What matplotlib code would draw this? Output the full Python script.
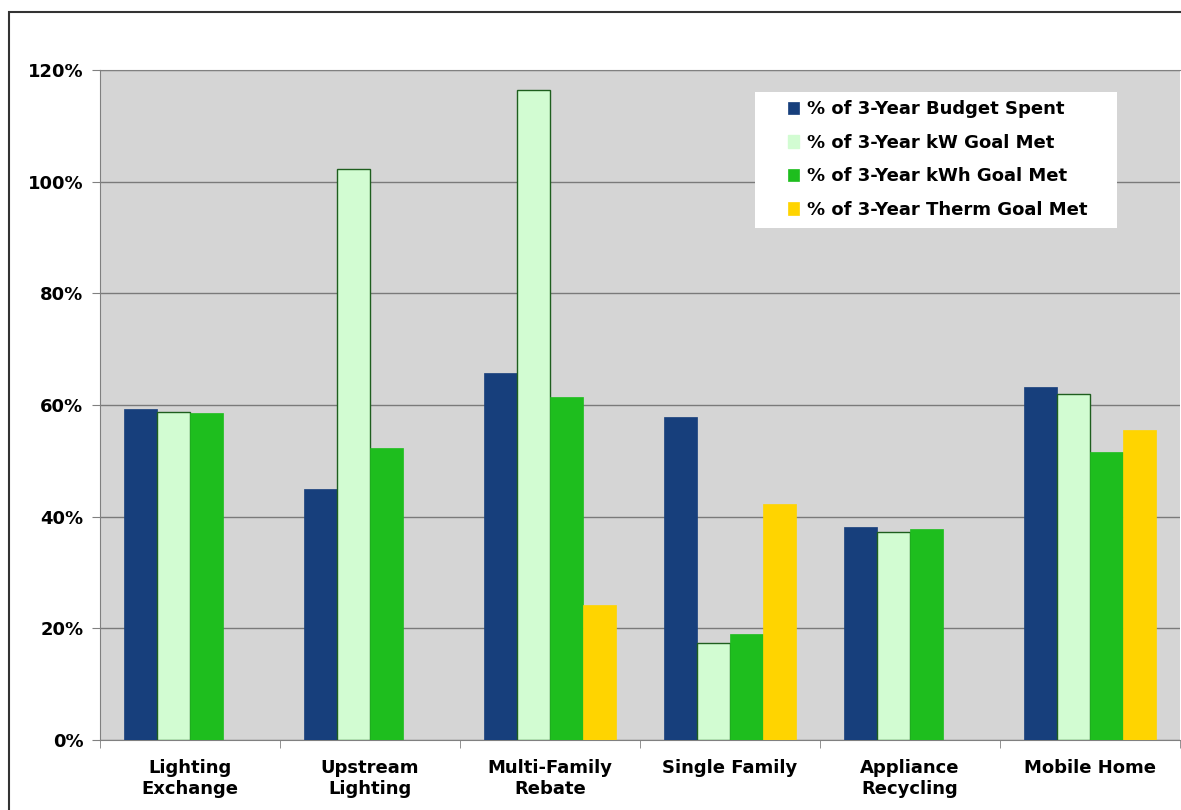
import matplotlib
matplotlib.use("Agg")
import matplotlib.pyplot as plt
import numpy as np
from matplotlib.patches import Rectangle

categories = ["Lighting\nExchange", "Upstream\nLighting", "Multi-Family\nRebate",
              "Single Family", "Appliance\nRecycling", "Mobile Home"]
series_names = ["% of 3-Year Budget Spent", "% of 3-Year kW Goal Met",
                "% of 3-Year kWh Goal Met", "% of 3-Year Therm Goal Met"]
budget_spent = [59.3, 44.9, 65.8, 57.8, 38.1, 63.2]
kw_goal = [58.7, 102.2, 116.5, 17.3, 37.3, 62.0]
kwh_goal = [58.5, 52.3, 61.5, 19.0, 37.8, 51.5]
therm_goal = [np.nan, np.nan, 24.1, 42.3, np.nan, 55.6]
y_ticks = [0, 20, 40, 60, 80, 100, 120]

colors = ["#173F7C", "#D2FCD2", "#1EBE1E", "#FFD400"]
edges = ["#173F7C", "#1E5E1E", "#1EBE1E", "#FFD400"]

plt.rcParams["font.family"] = ["DejaVu Sans"]
plt.rcParams["font.weight"] = "bold"

fig = plt.figure(figsize=(11.81, 8.10), dpi=100)
fig.patches.append(Rectangle((9 / 1181, -0.05), 1.2, 1 - 12 / 810 + 0.05,
                             transform=fig.transFigure, fill=False,
                             edgecolor="#333333", linewidth=1.5, zorder=0))

ax = fig.add_axes([100 / 1181, 1 - 740 / 810, 1080 / 1181, 670 / 810])
ax.set_facecolor("#D5D5D5")

x = np.arange(len(categories))
width = 0.183
all_series = [budget_spent, kw_goal, kwh_goal, therm_goal]
for i, (vals, name) in enumerate(zip(all_series, series_names)):
    ax.bar(x + (i - 1.5) * width, vals, width, color=colors[i],
           edgecolor=edges[i], linewidth=1.0 if i == 1 else 0.5,
           label=name, zorder=3)

ax.set_xlim(-0.5, len(categories) - 0.5)
ax.set_ylim(0, 120)
ax.set_yticks(y_ticks)
ax.set_yticklabels([f"{v}%" for v in y_ticks], fontsize=13, fontweight="bold")
ax.yaxis.grid(True, color="#7A7A7A", linewidth=1.0, zorder=1)
ax.set_axisbelow(True)

ax.set_xticks(x)
ax.set_xticklabels(categories, fontsize=13, fontweight="bold",
                   linespacing=1.2, va="top")
ax.set_xticks(np.arange(len(categories) + 1) - 0.5, minor=True)
ax.tick_params(axis="x", which="major", length=0, pad=14)
ax.tick_params(axis="x", which="minor", length=6, color="#808080")
ax.tick_params(axis="y", length=6, color="#808080", pad=6)

for side in ["left", "bottom", "top"]:
    ax.spines[side].set_color("#808080")
ax.spines["right"].set_visible(False)

# white legend panel
ax.add_patch(Rectangle((0.6065, 0.764), 0.9417 - 0.6065, 0.967 - 0.764,
                       transform=ax.transAxes, facecolor="white",
                       edgecolor="none", zorder=5))
leg = ax.legend(loc="upper left", bbox_to_anchor=(0.637, 0.955),
                frameon=False, handlelength=0.6, handleheight=0.7,
                handletextpad=0.45, labelspacing=0.86, borderpad=0,
                borderaxespad=0, prop={"weight": "bold", "size": 13})
leg.set_zorder(6)
leg.legend_handles[1].set_edgecolor("#D2FCD2")

fig.savefig("out.png", dpi=100)
